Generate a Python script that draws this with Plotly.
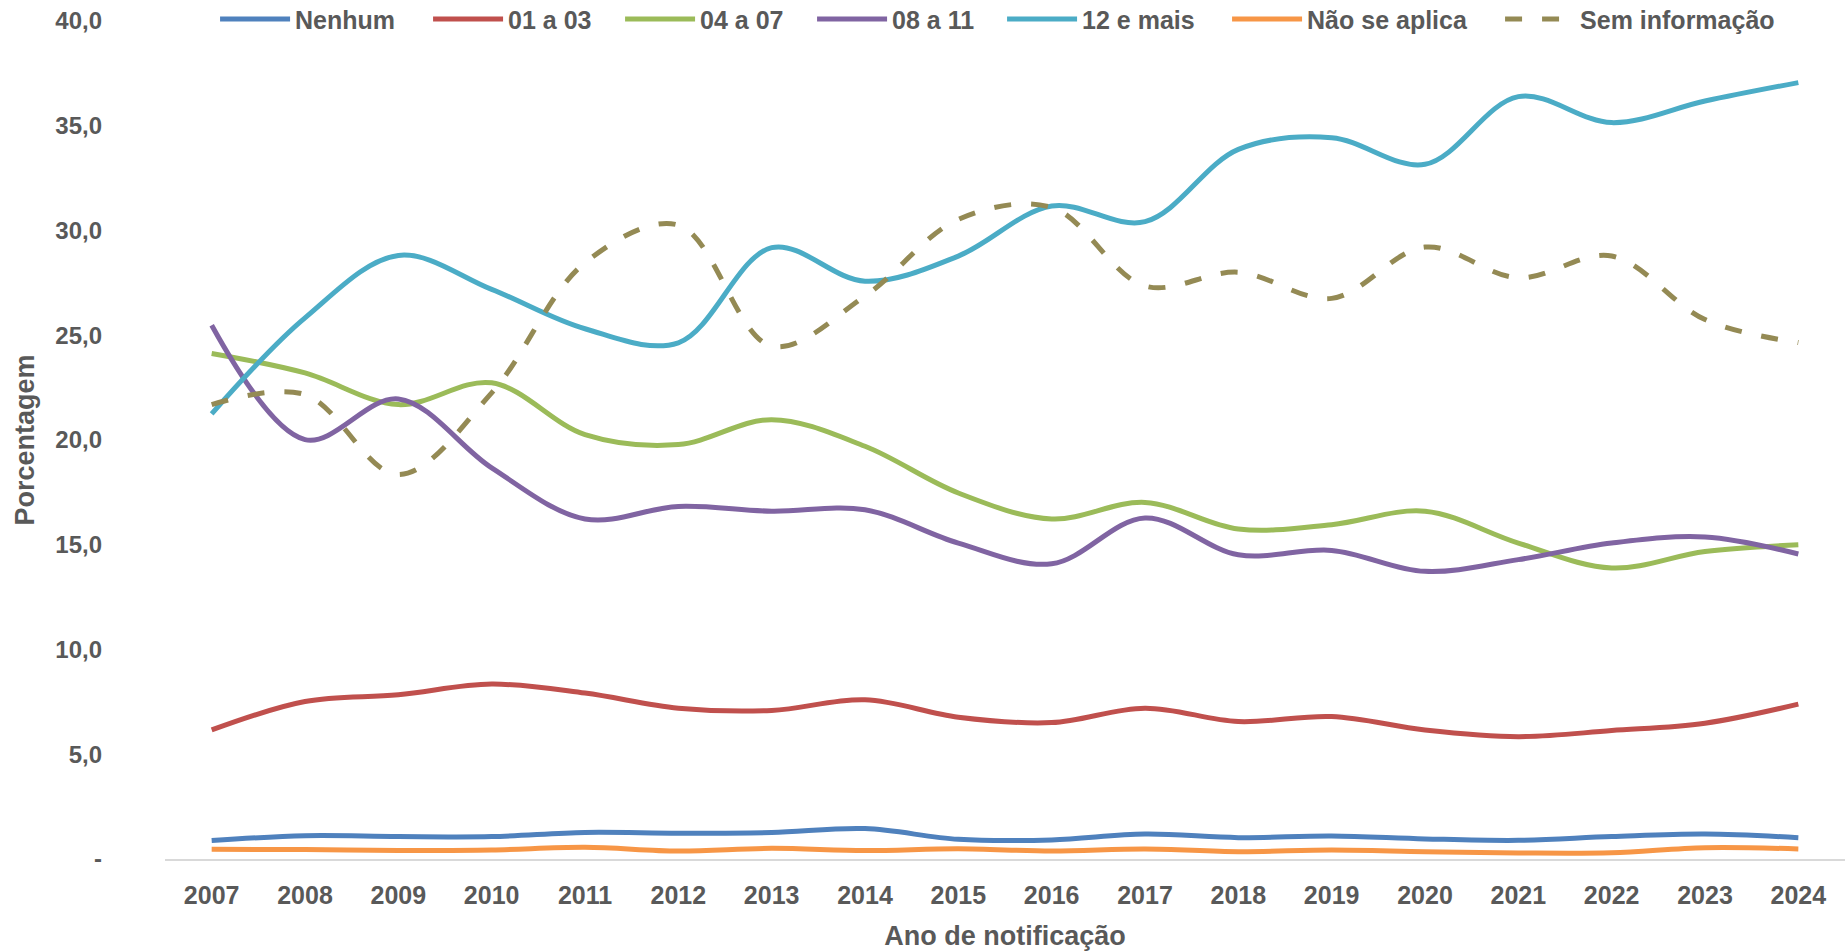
import plotly.graph_objects as go

years = [str(y) for y in range(2007, 2025)]

nenhum = [0.88, 1.11, 1.07, 1.07, 1.27, 1.23, 1.26, 1.45, 0.94, 0.91, 1.19, 1.02, 1.10, 0.96, 0.89, 1.07, 1.19, 1.02]
de01a03 = [6.16, 7.52, 7.84, 8.35, 7.92, 7.20, 7.09, 7.60, 6.77, 6.51, 7.20, 6.56, 6.80, 6.16, 5.84, 6.13, 6.48, 7.39]
de04a07 = [24.13, 23.20, 21.69, 22.73, 20.26, 19.78, 20.97, 19.70, 17.47, 16.23, 17.02, 15.75, 15.96, 16.60, 15.08, 13.89, 14.68, 15.00]
de08a11 = [25.48, 20.02, 21.96, 18.67, 16.23, 16.83, 16.60, 16.67, 15.08, 14.09, 16.28, 14.52, 14.73, 13.73, 14.29, 15.08, 15.37, 14.56]
doze_mais = [21.25, 25.83, 28.81, 27.19, 25.31, 24.64, 29.18, 27.58, 28.78, 31.17, 30.42, 33.87, 34.43, 33.16, 36.39, 35.15, 36.18, 37.06]
nao_aplica = [0.46, 0.45, 0.41, 0.43, 0.56, 0.38, 0.51, 0.40, 0.49, 0.38, 0.48, 0.35, 0.43, 0.35, 0.29, 0.30, 0.54, 0.48]
sem_info = [21.69, 22.17, 18.35, 22.25, 28.46, 30.26, 24.48, 26.87, 30.53, 31.10, 27.35, 28.01, 26.76, 29.21, 27.74, 28.78, 25.75, 24.65]

series_names = ["Nenhum", "01 a 03", "04 a 07", "08 a 11", "12 e mais", "Não se aplica", "Sem informação"]
series_values = [nenhum, de01a03, de04a07, de08a11, doze_mais, nao_aplica, sem_info]
series_colors = ["#4F81BD", "#C0504D", "#9BBB59", "#8064A2", "#4BACC6", "#F79646", "#948A54"]
series_dash = ["solid", "solid", "solid", "solid", "solid", "solid", "17px,20px"]
legend_widths = [128, 107, 107, 105, 140, 188, 200]

y_tickvals = [0, 5, 10, 15, 20, 25, 30, 35, 40]
y_ticktext = ["-", "5,0", "10,0", "15,0", "20,0", "25,0", "30,0", "35,0", "40,0"]

FONT = "Liberation Sans, Arial, sans-serif"
GRAY = "#595959"

fig = go.Figure()
for name, vals, col, dash, lw in zip(series_names, series_values, series_colors, series_dash, legend_widths):
    fig.add_trace(go.Scatter(
        x=years, y=vals, name=name, mode="lines", legendwidth=lw,
        line=dict(color=col, width=5, shape="spline", smoothing=1.0, dash=dash),
    ))

fig.update_layout(
    width=1846, height=951,
    margin=dict(l=165, r=1, t=21, b=92, autoexpand=False),
    plot_bgcolor="white", paper_bgcolor="white",
    font=dict(family=FONT, size=24, color=GRAY, weight="bold"),
    showlegend=True,
    legend=dict(
        orientation="h", x=0.0298, xanchor="left",
        yref="container", y=0.9797, yanchor="middle",
        font=dict(family=FONT, size=25, color=GRAY, weight="bold"),
        itemwidth=70, bgcolor="rgba(0,0,0,0)",
    ),
    xaxis=dict(
        type="category", range=[-0.5, 17.5],
        showline=True, linecolor="#D9D9D9", linewidth=2,
        showgrid=False, ticks="", zeroline=False,
        ticklabelstandoff=13,
        tickfont=dict(family=FONT, size=25, color=GRAY, weight="bold"),
        title=dict(text="Ano de notificação", standoff=20,
                   font=dict(family=FONT, size=27, color=GRAY, weight="bold")),
    ),
    yaxis=dict(
        range=[0, 40], tickvals=y_tickvals, ticktext=y_ticktext,
        showline=False, showgrid=False, zeroline=False, ticks="",
        ticklabelstandoff=62,
        tickfont=dict(family=FONT, size=24, color=GRAY, weight="bold"),
        title=dict(text="Porcentagem", standoff=12,
                   font=dict(family=FONT, size=27, color=GRAY, weight="bold")),
    ),
)

fig.write_html("out.html", config={"displayModeBar": False},
               post_script="document.body.style.margin='0';document.body.style.overflow='hidden';")
